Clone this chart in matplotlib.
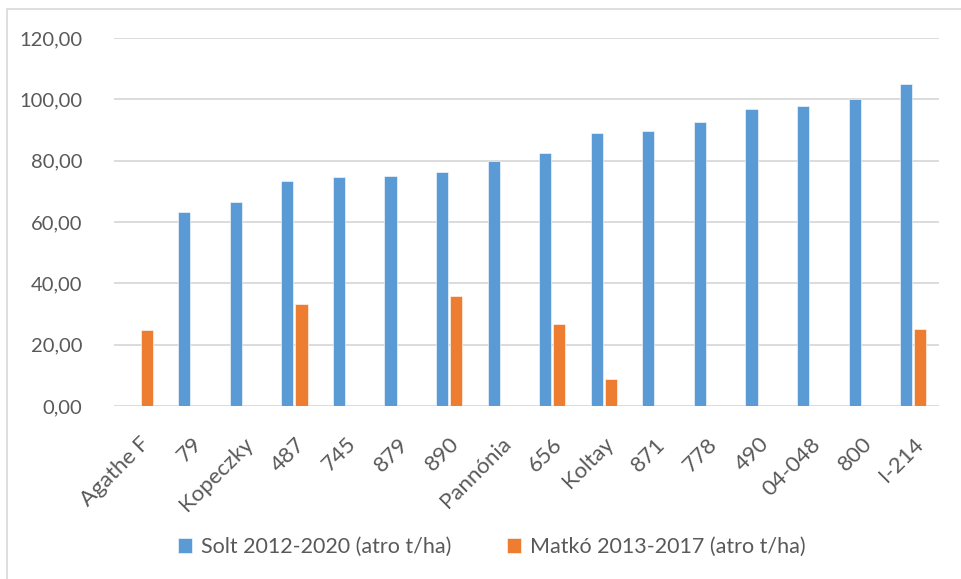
import numpy as np
import matplotlib
matplotlib.use("Agg")
from matplotlib import pyplot as plt
from matplotlib.patches import Rectangle

plt.rcParams["font.family"] = ["Lato", "DejaVu Sans"]

categories = ["Agathe F", "79", "Kopeczky", "487", "745", "879", "890", "Pannónia",
              "656", "Koltay", "871", "778", "490", "04-048", "800", "I-214"]
solt = [np.nan, 63.2, 66.6, 73.3, 74.7, 75.1, 76.3, 80.0,
        82.4, 88.9, 89.6, 92.5, 97.0, 97.7, 100.0, 104.9]
matko = [24.7, np.nan, np.nan, 33.4, np.nan, np.nan, 35.8, np.nan,
         26.7, 8.9, np.nan, np.nan, np.nan, np.nan, np.nan, 25.2]
series_names = ["Solt 2012-2020 (atro t/ha)", "Matkó 2013-2017 (atro t/ha)"]
yticks = [0, 20, 40, 60, 80, 100, 120]

blue = "#5b9bd5"
orange = "#ed7d31"
txt = "#595959"
grid = "#d9d9d9"

fig = plt.figure(figsize=(9.62, 5.79), dpi=100)
# grey chart-area border, cut off at the right and bottom like the screenshot
fig.patches.append(Rectangle((7 / 962, -0.1), 1.2, 1 - 9 / 579 + 0.1,
                             transform=fig.transFigure, fill=False,
                             edgecolor=grid, linewidth=1.2))
ax = fig.add_axes([114 / 962, 1 - 406 / 579, 825 / 962, 368 / 579])

x = np.arange(len(categories))
w = 0.235
ax.bar(x - 0.137, solt, w, color=blue, edgecolor="white", linewidth=0.4,
       label=series_names[0], zorder=3)
ax.bar(x + 0.137, matko, w, color=orange, edgecolor="white", linewidth=0.4,
       label=series_names[1], zorder=3)

ax.set_xlim(-0.5, len(categories) - 0.5)
ax.set_ylim(0, 120)
ax.set_yticks(yticks)
ax.set_yticklabels([f"{v:.2f}".replace(".", ",") for v in yticks])
ax.yaxis.grid(True, color=grid, linewidth=1.3, zorder=0)
ax.set_axisbelow(True)
for s in ax.spines.values():
    s.set_visible(False)
ax.tick_params(axis="y", length=0, pad=23, labelsize=14.5, labelcolor=txt)
ax.set_xticks(x)
ax.set_xticklabels(categories, rotation=45, ha="right", va="top",
                   rotation_mode="anchor", fontsize=16, color=txt)
ax.tick_params(axis="x", length=0, pad=20)

fig.legend(loc="center", bbox_to_anchor=(492 / 962, 1 - 547 / 579), ncol=2,
           frameon=False, fontsize=15.5, labelcolor=txt, handlelength=0.65,
           handleheight=0.65, handletextpad=0.4, columnspacing=2.6)

fig.savefig("out.png", dpi=100)
